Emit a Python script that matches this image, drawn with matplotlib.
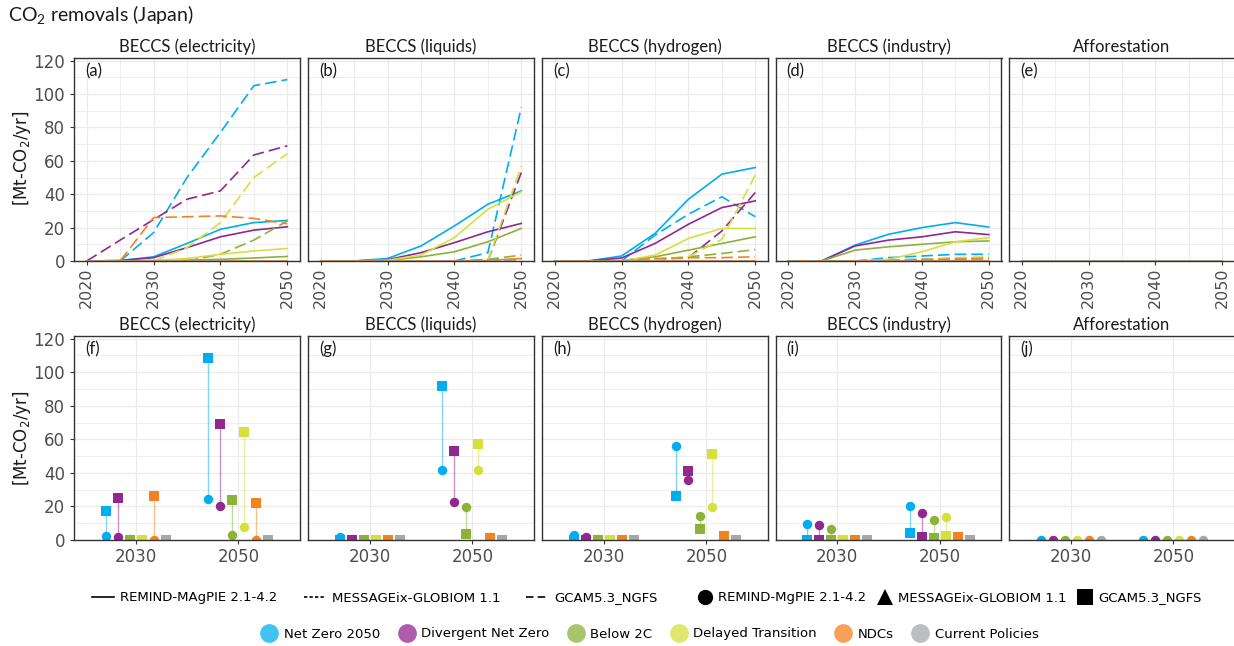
import matplotlib
matplotlib.use("Agg")
import matplotlib.pyplot as plt
from matplotlib.lines import Line2D
from matplotlib.ticker import MultipleLocator

# ---- data (Mt-CO2/yr), rows follow `scenarios`, None = no data ----
years = [2020, 2025, 2030, 2035, 2040, 2045, 2050]
snapshot_years = [2030, 2050]
scenarios = ["Net Zero 2050", "Divergent Net Zero", "Below 2C",
             "Delayed Transition", "NDCs", "Current Policies"]
scenario_colors = ["#00AEEF", "#92278F", "#8CB23A", "#D6E03D", "#F58220", "#A5A8A8"]
line_models = ["REMIND-MAgPIE 2.1-4.2", "MESSAGEix-GLOBIOM 1.1", "GCAM5.3_NGFS"]
marker_models = ["REMIND-MgPIE 2.1-4.2", "MESSAGEix-GLOBIOM 1.1", "GCAM5.3_NGFS"]
panel_titles = ["BECCS (electricity)", "BECCS (liquids)", "BECCS (hydrogen)",
                "BECCS (industry)", "Afforestation"]
top_letters = ["(a)", "(b)", "(c)", "(d)", "(e)"]
bottom_letters = ["(f)", "(g)", "(h)", "(i)", "(j)"]

elec_remind = [
    [0, 0.3, 2.5, 10.5, 19, 23, 24.3],
    [0, 0.2, 2, 8, 14.5, 18.5, 20.5],
    [0, 0, 0.3, 0.5, 1, 1.8, 2.7],
    [0, 0, 0.3, 1.5, 4, 6, 7.5],
    [0, 0, 0, 0, 0, 0, 0],
    None,
]
elec_gcam = [
    [0, 0, 17, 50, 77, 105, 108.7],
    [0, 12.5, 24.8, 37, 42, 63.5, 69],
    [0, 0, 0, 0, 4, 12.5, 24],
    [0, 0, 0, 8, 23, 50, 64.3],
    [0, 0, 26, 26.5, 27, 25.5, 22.3],
    [0, 0, 0, 0, 0, 0, 0],
]
liq_remind = [
    [0, 0, 1.5, 9, 21, 34, 42],
    [0, 0, 0.8, 5, 11, 17.5, 22.5],
    [0, 0, 0.3, 2.5, 5.5, 11.5, 19.5],
    [0, 0, 0.5, 3.5, 14, 31, 41.5],
    [0, 0, 0, 0, 0, 0.3, 1.5],
    None,
]
liq_gcam = [
    [0, 0, 0, 0, 0, 5, 92],
    [0, 0, 0, 0, 0, 0, 53],
    [0, 0, 0, 0, 0, 1, 3.5],
    [0, 0, 0, 0, 0, 0, 57],
    [0, 0, 0, 0, 0, 0.3, 1],
    [0, 0, 0, 0, 0, 0, 0],
]
hyd_remind = [
    [0, 0, 3, 16.5, 37, 52, 56],
    [0, 0, 1.8, 10.5, 22, 32, 36],
    [0, 0, 0.3, 2.5, 6.5, 10.5, 14.5],
    [0, 0, 0, 3.5, 13.5, 19.5, 19.5],
    [0, 0, 0, 0, 0, 0, 0],
    None,
]
hyd_gcam = [
    [0, 0, 0, 15.5, 28, 38.5, 26.5],
    [0, 0, 0, 1, 2, 18, 41],
    [0, 0, 0, 1, 2.5, 4.5, 6.8],
    [0, 0, 0, 1, 2.5, 13, 51.5],
    [0, 0, 0, 1.5, 2, 2, 2.5],
    [0, 0, 0, 0, 0, 0, 0],
]
ind_remind = [
    [0, 0, 9.5, 16, 20, 23, 20.3],
    [0, 0, 9, 12.5, 14.5, 17.5, 15.8],
    [0, 0, 6.5, 8.5, 10, 11.5, 12],
    [0, 0, 0, 1, 5.5, 11.5, 14],
    [0, 0, 0, 0, 0, 0, 0],
    None,
]
ind_gcam = [
    [0, 0, 0, 2, 3, 4, 4],
    [0, 0, 0, 0.5, 1, 1.5, 2],
    [0, 0, 0, 0.3, 0.5, 1, 1.3],
    [0, 0, 0, 0.5, 1, 2, 2.5],
    [0, 0, 0, 0.3, 0.8, 1.2, 1.5],
    [0, 0, 0, 0, 0, 0, 0],
]
aff_remind = [[0, 0, 0, 0, 0, 0, 0] for _ in scenarios]
aff_gcam = [None for _ in scenarios]

panel_data = [
    (elec_remind, elec_gcam),
    (liq_remind, liq_gcam),
    (hyd_remind, hyd_gcam),
    (ind_remind, ind_gcam),
    (aff_remind, aff_gcam),
]

# ---- layout (pixels of a 1234x646 canvas) ----
W, H = 1234, 646
panel_left = [74, 308, 542, 775.5, 1009]
panel_w = 226
TEXT_FONT = "Lato"
TICK_GREY = "#4D4D4D"
GRID = "#EBEBEB"
GCAM_DASH = (7, 3)

plt.rcParams["font.family"] = ["DejaVu Sans"]
fig = plt.figure(figsize=(W / 100, H / 100), dpi=100)


def make_axes(left, top, bottom):
    return fig.add_axes([left / W, 1 - bottom / H, panel_w / W, (bottom - top) / H])


def style_axes(ax, idx, title, letter):
    ax.set_axisbelow(True)
    ax.set_ylim(0, 121.6)
    ax.yaxis.set_major_locator(MultipleLocator(20))
    ax.yaxis.set_minor_locator(MultipleLocator(10))
    ax.grid(which="major", color=GRID, lw=0.9)
    ax.grid(which="minor", color=GRID, lw=0.6)
    for sp in ax.spines.values():
        sp.set_color("#333333")
        sp.set_linewidth(1.0)
    ax.tick_params(which="minor", length=0)
    ax.tick_params(which="major", length=3, width=0.8, color="#333333",
                   labelcolor=TICK_GREY, labelsize=12)
    if idx > 0:
        ax.tick_params(axis="y", left=False, labelleft=False)
    ax.text(0.5, 1.054, title, transform=ax.transAxes, ha="center", va="center",
            fontsize=12, family=TEXT_FONT, color="#1A1A1A")
    ax.text(0.049, 0.936, letter, transform=ax.transAxes, ha="left", va="center",
            fontsize=12, family=TEXT_FONT, color="#1A1A1A")


# ---- top row: time series ----
for idx, (remind, gcam) in enumerate(panel_data):
    ax = make_axes(panel_left[idx], 58, 261)
    style_axes(ax, idx, panel_titles[idx], top_letters[idx])
    ax.set_xlim(2018.1, 2051.9)
    ax.xaxis.set_major_locator(MultipleLocator(10))
    ax.xaxis.set_minor_locator(MultipleLocator(5))
    ax.tick_params(axis="x", labelrotation=90, labelsize=11.5, pad=2)
    for s, color in enumerate(scenario_colors):
        if remind[s] is not None:
            ax.plot(years, remind[s], color=color, lw=1.2)
        if gcam[s] is not None:
            ax.plot(years, gcam[s], color=color, lw=1.2, dashes=GCAM_DASH)

# ---- bottom row: 2030 / 2050 ranges by model ----
dodge = 0.117
for idx, (remind, gcam) in enumerate(panel_data):
    ax = make_axes(panel_left[idx], 336, 540)
    style_axes(ax, idx, panel_titles[idx], bottom_letters[idx])
    ax.set_xlim(0.4, 2.6)
    ax.set_xticks([1, 2])
    ax.set_xticklabels([str(y) for y in snapshot_years])
    ax.tick_params(axis="x", pad=3)
    for k, yr in enumerate(snapshot_years):
        yi = years.index(yr)
        for s, color in enumerate(scenario_colors):
            x = k + 1 + (s - 2.5) * dodge
            vals = [v[s][yi] for v in (remind, gcam) if v[s] is not None]
            if len(vals) > 1:
                ax.plot([x, x], [min(vals), max(vals)], color=color, lw=1.0, alpha=0.5)
        for s, color in enumerate(scenario_colors):
            x = k + 1 + (s - 2.5) * dodge
            if remind[s] is not None:
                ax.plot([x], [remind[s][yi]], "o", color=color, ms=6.8, mew=0)
        for s, color in enumerate(scenario_colors):
            x = k + 1 + (s - 2.5) * dodge
            if gcam[s] is not None:
                ax.plot([x], [gcam[s][yi]], "s", color=color, ms=6.8, mew=0)

# ---- figure texts ----
fig.text(8 / W, 1 - 15 / H, "CO$_\\mathregular{2}$ removals (Japan)", ha="left",
         va="center", fontsize=14, family=TEXT_FONT, color="#1A1A1A")
for yc in (158, 438):
    fig.text(22 / W, 1 - yc / H, "[Mt-CO$_\\mathregular{2}$/yr]", rotation=90,
             ha="center", va="center", fontsize=12, color="#1A1A1A")

# ---- legends ----
line_handles = [
    Line2D([0], [0], color="black", lw=1.2),
    Line2D([0], [0], color="black", lw=1.2, dashes=(2, 1.3)),
    Line2D([0], [0], color="black", lw=1.2, dashes=(4.5, 2.5)),
]
shape_handles = [
    Line2D([0], [0], ls="none", marker=m, color="black", ms=11, mew=0)
    for m in ("o", "^", "s")
]
color_handles = [
    Line2D([0], [0], ls="none", marker="o", color=c, alpha=0.75, ms=13.5, mew=0)
    for c in scenario_colors
]
leg_kw = dict(frameon=False, prop={"size": 9.5}, handletextpad=0.5, borderaxespad=0)
fig.legend(line_handles, line_models, loc="center", bbox_to_anchor=(375 / W, 1 - 598 / H),
           ncol=3, handlelength=1.6, columnspacing=2.0, **leg_kw)
fig.legend(shape_handles, marker_models, loc="center", bbox_to_anchor=(950 / W, 1 - 598 / H),
           ncol=3, handlelength=1.0, columnspacing=0.9, **leg_kw)
fig.legend(color_handles, scenarios, loc="center", bbox_to_anchor=(650 / W, 1 - 634 / H),
           ncol=6, handlelength=1.2, columnspacing=1.4, **leg_kw)

fig.savefig("out.png", dpi=100)
